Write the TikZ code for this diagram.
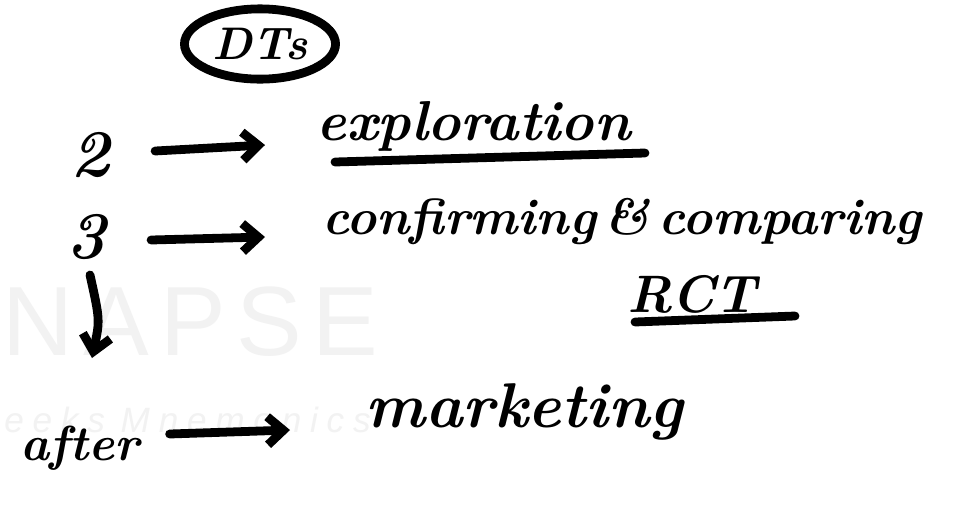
\documentclass[tikz,border=0pt]{standalone}
\usepackage{fontspec}
\usetikzlibrary{arrows.meta,shapes.geometric}
\newfontfamily\wmfont{Liberation Sans}
\tikzset{
  hand/.style={font=\fontsize{#1}{#1}\selectfont\bfseries\itshape, inner sep=0pt, text=black},
  ink/.style={line width=5pt, line cap=round, black},
  penarrow/.style={ink, -{Straight Barb[length=9pt,width=16pt,line width=5pt]}},
  wm/.style={text=black!5, inner sep=0pt}
}
\begin{document}
\begin{tikzpicture}[x=0.02cm,y=-0.02cm]
\useasboundingbox[fill=white] (0,0) rectangle (973,511);
% watermark
\node[wm, font=\wmfont\fontsize{56}{56}\selectfont, anchor=west] (wm1) at (2,322) {N\kern6pt A\kern6pt P\kern6pt S\kern6pt E};
\node[wm, font=\wmfont\itshape\fontsize{20}{20}\selectfont, anchor=west] (wm2) at (4,420) {e\kern5pt e\kern5pt k\kern5pt s\kern9pt M\kern5pt n\kern5pt e\kern5pt m\kern5pt o\kern5pt n\kern5pt i\kern5pt c\kern5pt s};
% DTs
\node[ellipse, draw, ink, minimum width=86pt, minimum height=40pt, hand=26pt] (dts) at (260,44) {DTs};
% row 2
\node[hand=38pt] (two) at (90,155) {2};
\node[hand=32pt, anchor=west] (explo) at (316,126) {exploration};
\coordinate (ul1a) at (335,162);
\coordinate (ul1b) at (645,153);
\draw[ink] (ul1a) -- (ul1b);
\draw[penarrow] (two.east) ++(45,-4) coordinate (a2s) -- (265,145) coordinate (a2e);
% row 3
\node[hand=38pt] (three) at (86,237) {3};
\node[hand=29pt, anchor=west] (conf) at (322,222) {confirming\,\&\,comparing};
\draw[penarrow] (three.east) ++(45,3) coordinate (a3s) -- (265,237) coordinate (a3e);
% RCT
\node[hand=30pt] (rct) at (692,294) {RCT};
\coordinate (ul2a) at (635,322);
\coordinate (ul2b) at (795,316);
\draw[ink] (ul2a) -- (ul2b);
% after / marketing
\node[hand=28pt] (after) at (80,448) {after};
\node[hand=36pt, anchor=west] (mkt) at (365,412) {marketing};
\draw[penarrow] (three.south) ++(4,15) coordinate (d1) .. controls (100,320) .. (92,358) coordinate (d2);
\draw[penarrow] (after.east) ++(30,-14) coordinate (a4s) -- (290,430) coordinate (a4e);
\end{tikzpicture}
\end{document}
